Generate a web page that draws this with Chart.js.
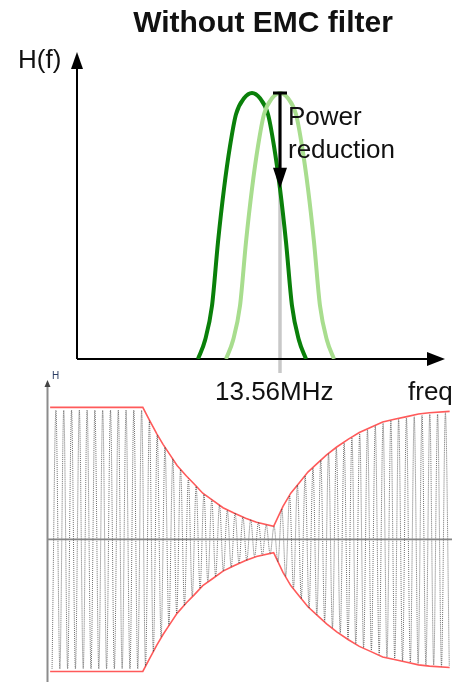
<!DOCTYPE html>
<html>
<head>
<meta charset="utf-8">
<script src="https://cdn.jsdelivr.net/npm/chart.js@4/dist/chart.umd.min.js"></script>
<style>
  html, body { margin: 0; padding: 0; background: #fff; overflow: hidden; width: 452px; height: 682px; }
  #spectrum { position: absolute; left: 0; top: 0; }
  #response { position: absolute; left: 0; top: 369px; }
</style>
</head>
<body>
<canvas id="spectrum" width="452" height="420"></canvas>
<canvas id="response" width="452" height="313"></canvas>
<script>
// ---- Upper panel: resonance curves around the 13.56 MHz carrier ----
const carrierMHz = 13.56;
const detunedFreq = [9.46, 9.81, 10.16, 10.46, 10.76, 11.06, 11.36, 11.76, 12.16, 12.56, 12.96, 13.26, 13.56, 13.86, 14.16, 14.51, 14.86];
const detunedH    = [0, 0.07, 0.2, 0.44, 0.64, 0.8, 0.92, 0.98, 1, 0.98, 0.92, 0.8, 0.64, 0.44, 0.2, 0.07, 0];
const tunedFreq   = [10.86, 11.21, 11.56, 11.86, 12.16, 12.46, 12.76, 13.16, 13.56, 13.96, 14.36, 14.66, 14.96, 15.26, 15.56, 15.91, 16.26];
const tunedH      = [0, 0.07, 0.2, 0.44, 0.64, 0.8, 0.92, 0.98, 1, 0.98, 0.92, 0.8, 0.64, 0.44, 0.2, 0.07, 0];

// ---- Lower panel: oscillating response and its envelope ----
const envX     = [0.4, 12.3, 13.1, 14.1, 14.9, 15.8, 16.7, 17.9, 18.9, 20.0, 21.2, 22.6, 24.0, 25.5, 26.9, 29.1, 30.3, 31.3, 32.4, 33.5, 34.6, 35.9, 37.2, 38.7, 40.1, 41.6, 43.1, 44.6, 46.2, 47.7, 49.1, 51.7];
const envUpper = [100, 100, 91, 80, 72, 64, 56, 48, 42, 35, 30, 24, 20, 16, 13, 10, 25, 35, 43, 51, 57, 64, 70, 76, 81, 85, 89, 91, 93, 95, 96, 97];
const envLower = [-100, -100, -91, -80, -72, -64, -56, -48, -42, -35, -30, -24, -20, -16, -13, -10, -25, -35, -43, -51, -57, -64, -70, -76, -81, -85, -89, -91, -93, -95, -96, -97];

// successive half-cycle extremes of the oscillation
const waveStart = 0.65;
const waveStep = 0.5;
const wavePeaks = [
  -98, 98, -98, 98, -98, 98, -98, 98, -98, 98, -98, 98,
  -98, 98, -98, 98, -98, 98, -98, 98, -98, 98, -98, 98,
  -96, 90, -85, 79, -74, 70, -65, 61, -56, 53, -50, 46, -43, 40, -37, 34,
  -32, 30, -28, 26, -24, 22, -21, 20, -18, 17, -16, 15, -13, 13, -12, 11, -11, 10,
  -17, 23, -28, 33, -37, 41, -45, 48, -52, 54, -57, 60, -62, 65, -67, 69,
  -71, 73, -75, 77, -79, 80, -82, 83, -84, 86, -87, 88, -89, 90, -90, 91,
  -92, 92, -93, 93, -94, 94, -95, 95, -95, 95, -96, 96, -96
];
const baseline = [0, 0];
const baselineX = [0, 52];

const FONT = '"Liberation Sans", Arial, Helvetica, sans-serif';

function pts(xs, ys) { return xs.map((x, i) => ({ x: x, y: ys[i] })); }

function arrowHead(ctx, tipX, tipY, dir, len, half) {
  ctx.beginPath();
  if (dir === 'up') {
    ctx.moveTo(tipX, tipY); ctx.lineTo(tipX - half, tipY + len); ctx.lineTo(tipX + half, tipY + len);
  } else if (dir === 'down') {
    ctx.moveTo(tipX, tipY); ctx.lineTo(tipX - half, tipY - len); ctx.lineTo(tipX + half, tipY - len);
  } else {
    ctx.moveTo(tipX, tipY); ctx.lineTo(tipX - len, tipY - half); ctx.lineTo(tipX - len, tipY + half);
  }
  ctx.closePath();
  ctx.fill();
}

const spectrumDecor = {
  id: 'spectrumDecor',
  beforeDatasetsDraw(chart) {
    const { ctx, chartArea: a, scales: { x, y } } = chart;
    const cx = x.getPixelForValue(carrierMHz);
    ctx.save();
    // carrier marker
    ctx.strokeStyle = '#c8c8c8';
    ctx.lineWidth = 3.5;
    ctx.beginPath();
    ctx.moveTo(cx, y.getPixelForValue(1) - 2);
    ctx.lineTo(cx, a.bottom + 14);
    ctx.stroke();
    // axes with arrows
    ctx.strokeStyle = '#000';
    ctx.fillStyle = '#000';
    ctx.lineWidth = 2;
    ctx.beginPath();
    ctx.moveTo(a.left, a.bottom);
    ctx.lineTo(a.left, a.top + 12);
    ctx.moveTo(a.left, a.bottom);
    ctx.lineTo(a.right - 14, a.bottom);
    ctx.stroke();
    arrowHead(ctx, a.left, a.top, 'up', 17, 6);
    arrowHead(ctx, a.right, a.bottom, 'right', 18, 7);
    ctx.restore();
  },
  afterDatasetsDraw(chart) {
    const { ctx, scales: { x, y } } = chart;
    const cx = x.getPixelForValue(carrierMHz);
    const fromH = tunedH[tunedFreq.indexOf(carrierMHz)];
    const toH = detunedH[detunedFreq.indexOf(carrierMHz)];
    const y0 = y.getPixelForValue(fromH);
    const y1 = y.getPixelForValue(toH);
    ctx.save();
    ctx.strokeStyle = '#000';
    ctx.fillStyle = '#000';
    ctx.lineWidth = 3;
    ctx.beginPath();
    ctx.moveTo(cx - 7, y0); ctx.lineTo(cx + 7, y0);
    ctx.moveTo(cx, y0); ctx.lineTo(cx, y1 - 18);
    ctx.stroke();
    arrowHead(ctx, cx, y1, 'down', 21, 7);

    ctx.fillStyle = '#111';
    ctx.textBaseline = 'alphabetic';
    ctx.font = 'bold 30px ' + FONT;
    ctx.textAlign = 'center';
    ctx.fillText('Without EMC filter', 263, 32);
    ctx.textAlign = 'left';
    ctx.font = '26px ' + FONT;
    ctx.fillText('H(f)', 18, 68);
    ctx.fillText('Power', cx + 8, 125);
    ctx.fillText('reduction', cx + 8, 158);
    ctx.fillText('13.56MHz', cx - 65, 400);
    ctx.fillText('freq', 408, 400);
    ctx.restore();
  }
};

new Chart(document.getElementById('spectrum'), {
  type: 'line',
  data: {
    datasets: [
      { data: pts(tunedFreq, tunedH), borderColor: '#a8dd8e', borderWidth: 4, pointRadius: 0, cubicInterpolationMode: 'monotone', fill: false },
      { data: pts(detunedFreq, detunedH), borderColor: '#0a800a', borderWidth: 4, pointRadius: 0, cubicInterpolationMode: 'monotone', fill: false }
    ]
  },
  options: {
    responsive: false,
    animation: false,
    devicePixelRatio: 1,
    layout: { padding: { left: 77, right: 7, top: 52, bottom: 61 } },
    scales: {
      x: { type: 'linear', display: false, min: 3.41, max: 21.81 },
      y: { type: 'linear', display: false, min: 0, max: 1.154 }
    },
    plugins: { legend: { display: false }, tooltip: { enabled: false }, title: { display: false } }
  },
  plugins: [spectrumDecor]
});

const responseDecor = {
  id: 'responseDecor',
  afterDatasetsDraw(chart) {
    const { ctx, chartArea: a } = chart;
    ctx.save();
    ctx.strokeStyle = '#8c8c8c';
    ctx.lineWidth = 2;
    ctx.beginPath();
    ctx.moveTo(a.left + 0.5, a.bottom);
    ctx.lineTo(a.left + 0.5, a.top + 5);
    ctx.stroke();
    ctx.fillStyle = '#444';
    arrowHead(ctx, a.left + 0.5, a.top - 1, 'up', 7, 3);
    ctx.fillStyle = '#2b3d63';
    ctx.font = '10px ' + FONT;
    ctx.textAlign = 'left';
    ctx.fillText('H', a.left + 5, a.top - 2);
    ctx.restore();
  }
};

new Chart(document.getElementById('response'), {
  type: 'line',
  data: {
    datasets: [
      { data: pts(baselineX, baseline), borderColor: '#858585', borderWidth: 1.6, pointRadius: 0, fill: false },
      { data: wavePeaks.map((v, i) => ({ x: waveStart + i * waveStep, y: v })), borderColor: 'rgba(50,50,50,0.7)', borderWidth: 1, borderDash: [1, 1], pointRadius: 0, cubicInterpolationMode: 'monotone', fill: false },
      { data: pts(envX, envUpper), borderColor: '#ff5a5a', borderWidth: 1.6, pointRadius: 0, tension: 0, fill: false },
      { data: pts(envX, envLower), borderColor: '#ff5a5a', borderWidth: 1.6, pointRadius: 0, tension: 0, fill: false }
    ]
  },
  options: {
    responsive: false,
    animation: false,
    devicePixelRatio: 1,
    layout: { padding: { left: 47, right: 0, top: 12, bottom: 0 } },
    scales: {
      x: { type: 'linear', display: false, min: 0, max: 52 },
      y: { type: 'linear', display: false, min: -108, max: 120 }
    },
    plugins: { legend: { display: false }, tooltip: { enabled: false }, title: { display: false } }
  },
  plugins: [responseDecor]
});
</script>
</body>
</html>
